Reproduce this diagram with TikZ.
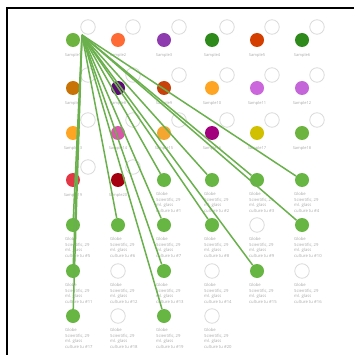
\documentclass[tikz,border=0pt]{standalone}
\usepackage{fontspec}
\setmainfont{Open Sans}
\usetikzlibrary{positioning}
\definecolor{linkgreen}{HTML}{6AB04C}
\definecolor{ringgrey}{HTML}{DADADA}
\definecolor{labelgrey}{HTML}{A8A8A8}
\definecolor{tubegreen}{HTML}{67B543}
\tikzset{
  well/.style={circle, inner sep=0pt, minimum size=14pt},
  ring/.style={circle, draw=ringgrey, line width=0.8pt, inner sep=0pt, minimum size=14.5pt},
  gfull/.style={well, fill=tubegreen},
  gempty/.style={ring},
  lbl/.style={font=\fontsize{4}{5}\selectfont, text=labelgrey, inner sep=0pt},
  glbl/.style={lbl, font=\fontsize{4.2}{5.7}\selectfont, align=left, anchor=north west},
  transfer/.style={draw=linkgreen, line width=1.5pt}
}
\begin{document}
\begin{tikzpicture}[x=1pt,y=-1pt]
\useasboundingbox (0,0) rectangle (354,355);
\draw[line width=2pt] (7,355) -- (7,8) -- (354,8);

% sample wells, with their empty partner rings
\foreach \n/\px/\py/\c in {1/73/40/6DB33F, 2/118/40/FF6B35, 3/164/40/8E3BB0,
    4/212/40/2F8A1C, 5/257/40/D43F00, 6/302/40/2F8A1C,
    7/73/88/C87306, 8/118/88/5B0A73, 9/164/88/C8400A,
    10/212/88/FFA524, 11/257/88/CC66DD, 12/302/88/C466DA,
    13/73/133/FFA524, 14/118/133/D957A8, 15/164/133/F5A630,
    16/212/133/A3007D, 17/257/133/D1C000, 18/302/133/6DB33F,
    19/73/180/E23744, 20/118/180/A5000F}{
  \definecolor{wc}{HTML}{\c}
  \node[ring] (r\n) at (\px+15,\py-13) {};
  \node[well, fill=wc] (s\n) at (\px,\py) {};
  \node[lbl, below=6pt of s\n] (sl\n) {Sample\n};
}

% culture tubes
\foreach \n/\px/\py/\st in {1/164/180/gfull, 2/212/180/gfull, 3/257/180/gfull, 4/302/180/gfull,
    5/73/225/gfull, 6/118/225/gfull, 7/164/225/gfull, 8/212/225/gfull, 9/257/225/gempty, 10/302/225/gfull,
    11/73/271/gfull, 12/118/271/gempty, 13/164/271/gfull, 14/212/271/gempty, 15/257/271/gfull, 16/302/271/gempty,
    17/73/316/gfull, 18/118/316/gempty, 19/164/316/gfull, 20/212/316/gempty}{
  \node[\st] (g\n) at (\px,\py) {};
  \node[glbl] (gl\n) at (\px-8,\py+12) {Globe\\Scientific, 29\\ml. glass\\culture tu \#\n};
}

% transfers from Sample1
\coordinate (o) at (82,35);
\foreach \t in {1,2,3,4,5,6,7,8,10,11,13,15,17,19}
  \draw[transfer] (o) -- (g\t);
\end{tikzpicture}
\end{document}
